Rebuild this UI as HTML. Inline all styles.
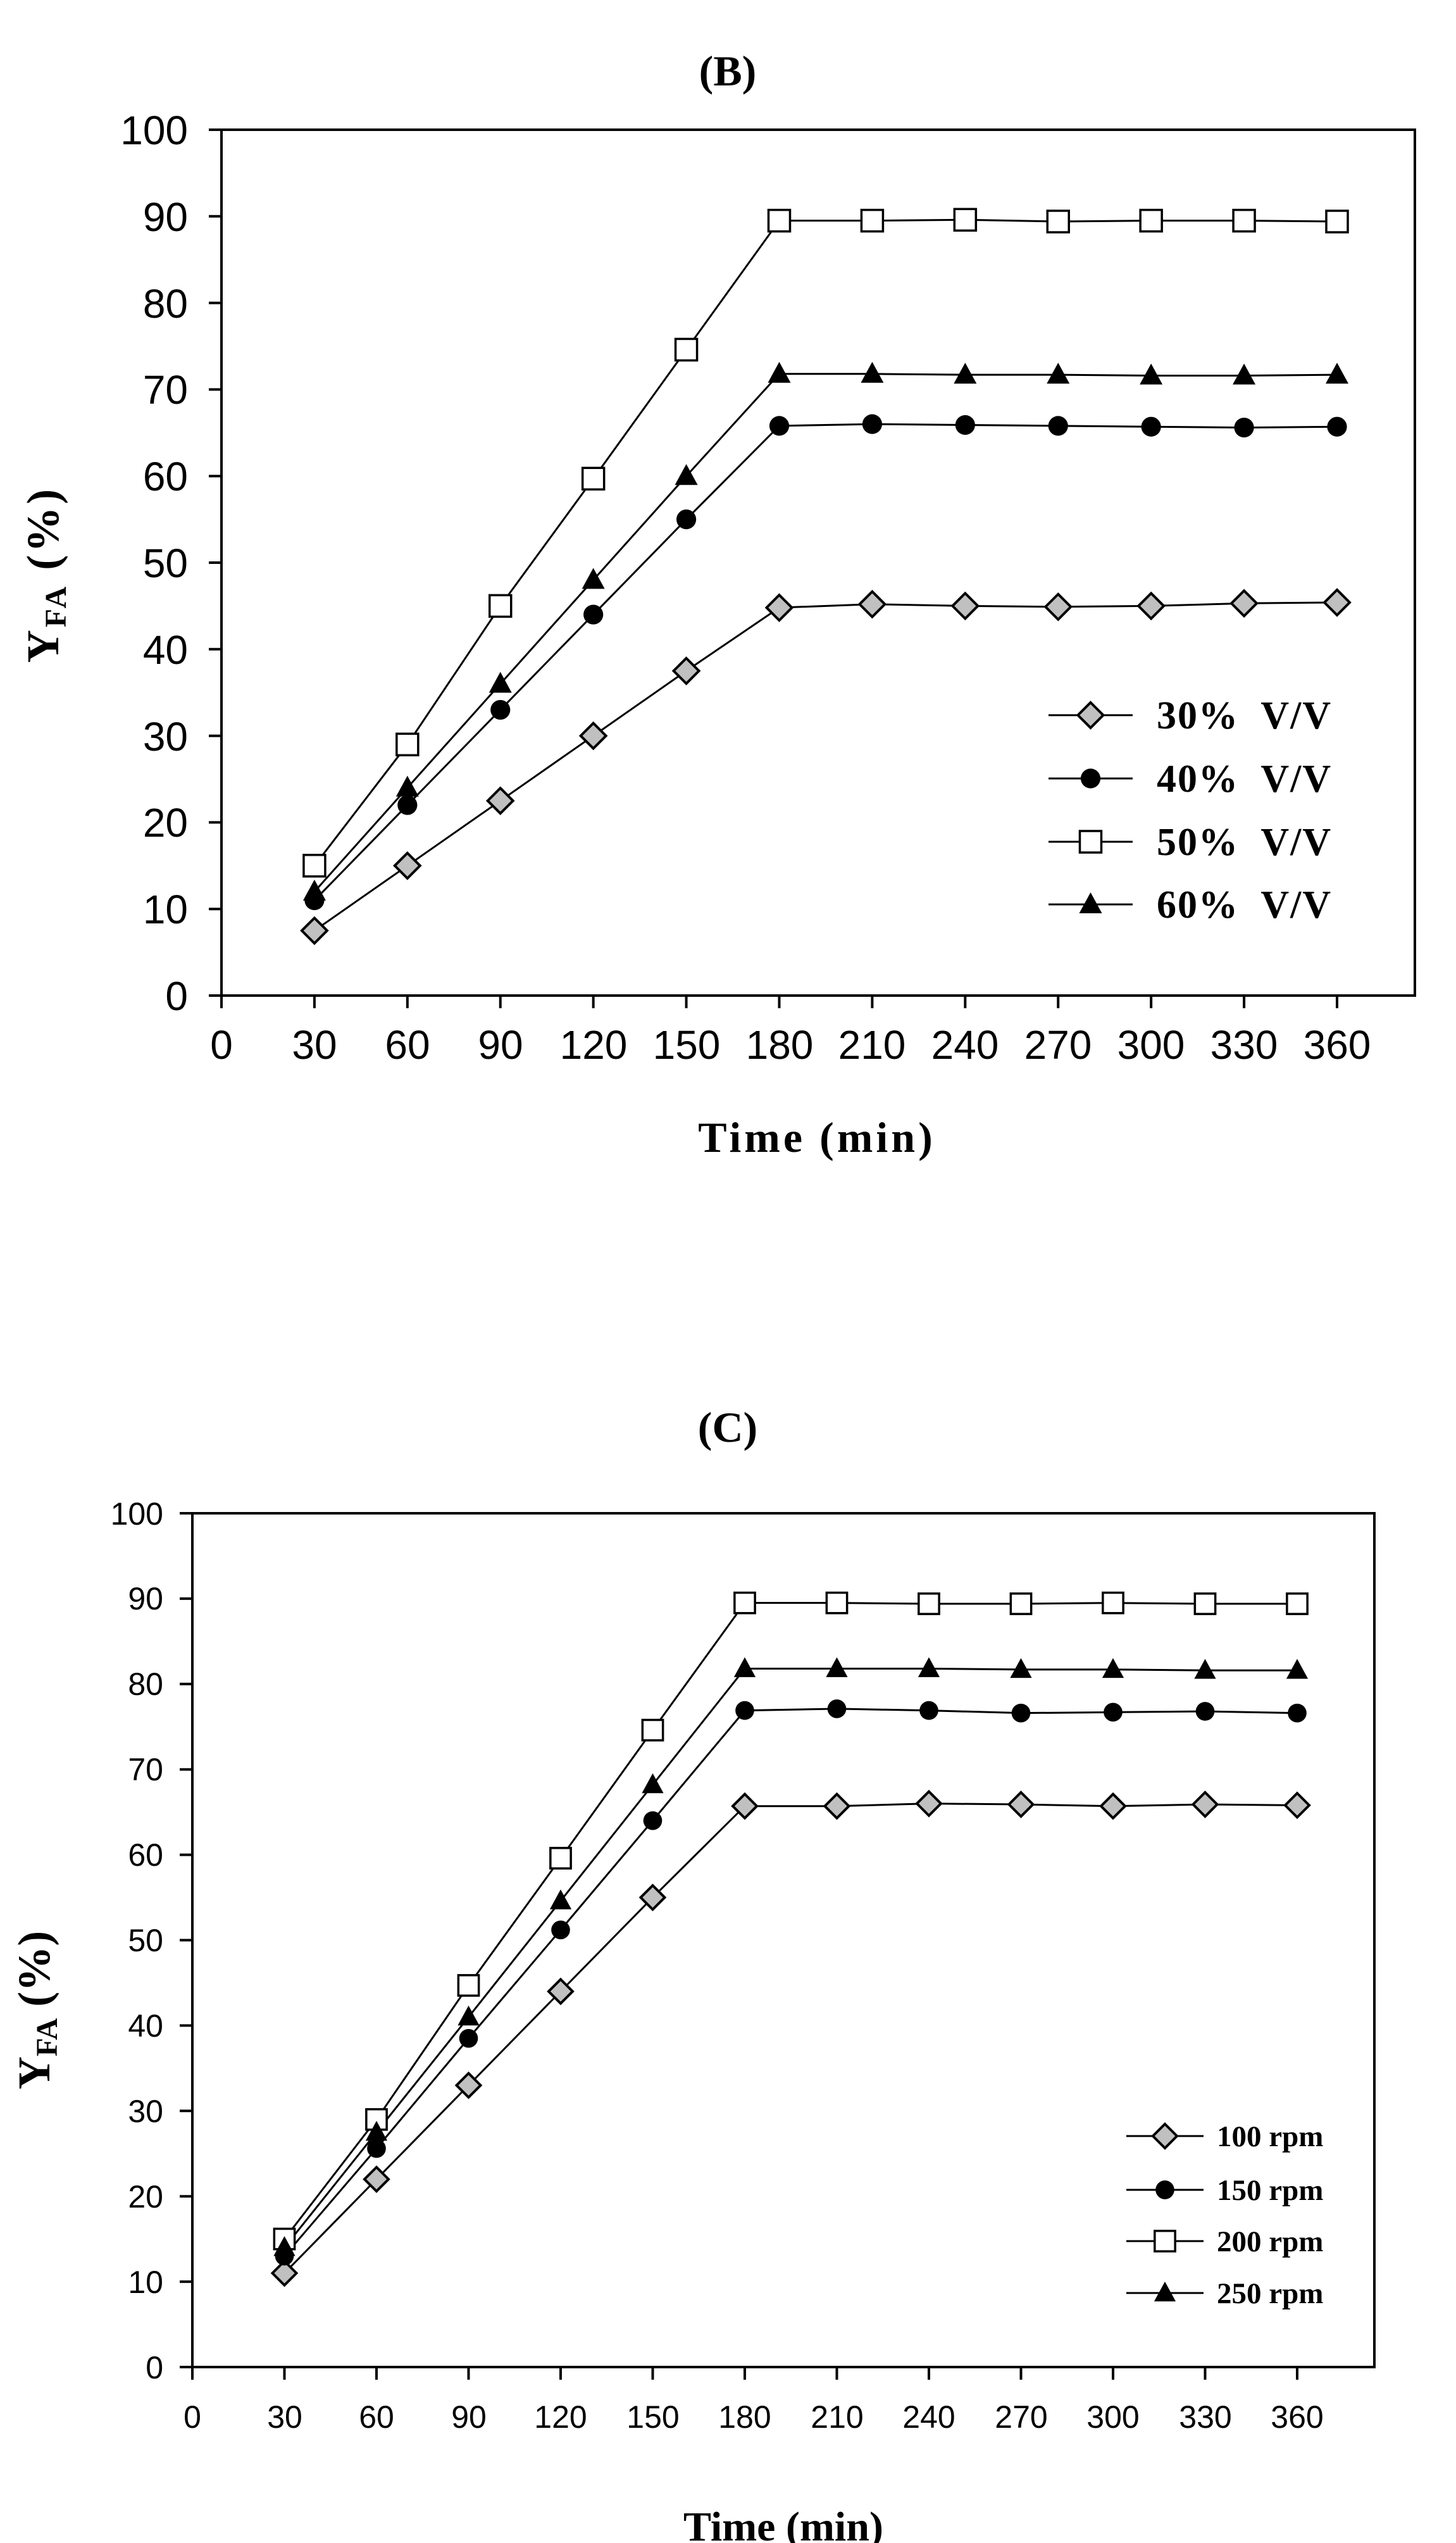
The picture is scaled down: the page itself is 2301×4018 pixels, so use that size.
<!DOCTYPE html>
<html><head><meta charset="utf-8"><style>
html,body{margin:0;padding:0;background:#fff;}
svg{display:block;}
.tl{font-family:"Liberation Sans",Arial,sans-serif;fill:#000;}
.bs{font-family:"Liberation Serif","Times New Roman",serif;font-weight:bold;fill:#000;}
</style></head><body>
<svg id="s" width="2301" height="4018" viewBox="0 0 2301 4018" xmlns="http://www.w3.org/2000/svg">
<rect width="2301" height="4018" fill="#fff"/>
<!-- Chart B -->
<text class="bs" x="1150" y="135" font-size="68" text-anchor="middle">(B)</text>
<rect x="350" y="205" width="1886" height="1368" fill="none" stroke="#000" stroke-width="4"/>
<g class="tl" font-size="64" text-anchor="end">
<text x="297" y="1596">0</text><text x="297" y="1459">10</text><text x="297" y="1322">20</text><text x="297" y="1186">30</text><text x="297" y="1049">40</text><text x="297" y="912">50</text><text x="297" y="775">60</text><text x="297" y="638">70</text><text x="297" y="502">80</text><text x="297" y="365">90</text><text x="297" y="228">100</text>
</g>
<g class="tl" font-size="64" text-anchor="middle">
<text x="350" y="1673">0</text><text x="497" y="1673">30</text><text x="644" y="1673">60</text><text x="791" y="1673">90</text><text x="938" y="1673">120</text><text x="1085" y="1673">150</text><text x="1232" y="1673">180</text><text x="1378" y="1673">210</text><text x="1525" y="1673">240</text><text x="1672" y="1673">270</text><text x="1819" y="1673">300</text><text x="1966" y="1673">330</text><text x="2113" y="1673">360</text>
</g>
<text class="bs" x="1291" y="1820" font-size="68" text-anchor="middle" letter-spacing="5">Time (min)</text>
<text class="bs" transform="translate(92,908) rotate(-90)" font-size="72" text-anchor="middle" letter-spacing="4">Y<tspan font-size="48" dy="12">FA</tspan><tspan dy="-12"> (%)</tspan></text>
<g class="bs" font-size="62" letter-spacing="2" word-spacing="18">
<text x="1828" y="1151">30% V/V</text><text x="1828" y="1251">40% V/V</text><text x="1828" y="1351">50% V/V</text><text x="1828" y="1450">60% V/V</text>
</g>
<g id="gB"></g>
<!-- Chart C -->
<text class="bs" x="1150" y="2278" font-size="68" text-anchor="middle">(C)</text>
<rect x="304" y="2391" width="1868" height="1349" fill="none" stroke="#000" stroke-width="4"/>
<g class="tl" font-size="50" text-anchor="end">
<text x="258" y="3758">0</text><text x="258" y="3623">10</text><text x="258" y="3488">20</text><text x="258" y="3353">30</text><text x="258" y="3218">40</text><text x="258" y="3083">50</text><text x="258" y="2948">60</text><text x="258" y="2813">70</text><text x="258" y="2678">80</text><text x="258" y="2543">90</text><text x="258" y="2409">100</text>
</g>
<g class="tl" font-size="50" text-anchor="middle">
<text x="304" y="3836">0</text><text x="450" y="3836">30</text><text x="595" y="3836">60</text><text x="741" y="3836">90</text><text x="886" y="3836">120</text><text x="1032" y="3836">150</text><text x="1177" y="3836">180</text><text x="1323" y="3836">210</text><text x="1468" y="3836">240</text><text x="1614" y="3836">270</text><text x="1759" y="3836">300</text><text x="1905" y="3836">330</text><text x="2050" y="3836">360</text>
</g>
<text class="bs" x="1238" y="4014" font-size="66" text-anchor="middle">Time (min)</text>
<text class="bs" transform="translate(78,3176) rotate(-90)" font-size="72" text-anchor="middle">Y<tspan font-size="48" dy="12">FA</tspan><tspan dy="-12"> (%)</tspan></text>
<g class="bs" font-size="47">
<text x="1923" y="3391">100 rpm</text><text x="1923" y="3476">150 rpm</text><text x="1923" y="3557">200 rpm</text><text x="1923" y="3639">250 rpm</text>
</g>
<g id="gC"></g>
</svg>
<script>
var NS="http://www.w3.org/2000/svg";
function el(p,t,a){var e=document.createElementNS(NS,t);for(var k in a)e.setAttribute(k,a[k]);p.appendChild(e);return e;}
function marker(g,type,x,y,s){
 if(type==0){el(g,"polygon",{points:(x)+","+(y-s)+" "+(x+s)+","+y+" "+x+","+(y+s)+" "+(x-s)+","+y,fill:"#c0c0c0",stroke:"#000","stroke-width":4});}
 else if(type==1){el(g,"circle",{cx:x,cy:y,r:s*0.78,fill:"#000"});}
 else if(type==2){var h=s*0.85;el(g,"rect",{x:x-h,y:y-h,width:2*h,height:2*h,fill:"#fff",stroke:"#000","stroke-width":3.5});}
 else {el(g,"polygon",{points:x+","+(y-s*0.95)+" "+(x+s*0.9)+","+(y+s*0.7)+" "+(x-s*0.9)+","+(y+s*0.7),fill:"#000"});}
}
function chart(id,x0,x1,y0,y1,data,s,leg){
 var g=document.getElementById(id);
 for(var i=0;i<=12;i++){var x=x0+(x1-x0)*i/12;el(g,"line",{x1:x,y1:y0,x2:x,y2:y0+20,stroke:"#000","stroke-width":4});}
 for(var j=0;j<=10;j++){var y=y0+(y1-y0)*j/10;el(g,"line",{x1:x0-20,y1:y,x2:x0,y2:y,stroke:"#000","stroke-width":4});}
 var X=function(t){return x0+(x1-x0)*t/360;},Y=function(v){return y0+(y1-y0)*v/100;};
 data.forEach(function(d,k){
  var pts=d.map(function(v,i){return X(30*(i+1))+","+Y(v);}).join(" ");
  el(g,"polyline",{points:pts,fill:"none",stroke:"#000","stroke-width":3});
 });
 data.forEach(function(d,k){d.forEach(function(v,i){marker(g,k,X(30*(i+1)),Y(v),s);});});
 leg.ys.forEach(function(y,k){el(g,"line",{x1:leg.a,y1:y,x2:leg.b,y2:y,stroke:"#000","stroke-width":3});marker(g,k,(leg.a+leg.b)/2,y,s);});
}
chart("gB",350,2113,1573,205,[
[7.5,15,22.5,30,37.5,44.8,45.2,45,44.9,45,45.3,45.4],
[11,22,33,44,55,65.8,66,65.9,65.8,65.7,65.6,65.7],
[15,29,45,59.7,74.6,89.5,89.5,89.6,89.4,89.5,89.5,89.4],
[12,24,36,48,60,71.8,71.8,71.7,71.7,71.6,71.6,71.7]],20,{a:1657,b:1790,ys:[1130,1230,1330,1429]});
chart("gC",304,2050,3740,2391,[
[11,22,33,44,55,65.7,65.7,66,65.9,65.7,65.9,65.8],
[13,25.6,38.5,51.2,64,76.9,77.1,76.9,76.6,76.7,76.8,76.6],
[15,29,44.7,59.6,74.6,89.5,89.5,89.4,89.4,89.5,89.4,89.4],
[14,27.5,41,54.6,68.2,81.8,81.8,81.8,81.7,81.7,81.6,81.6]],19,{a:1780,b:1902,ys:[3375,3460,3541,3623]});
</script>
</body></html>
